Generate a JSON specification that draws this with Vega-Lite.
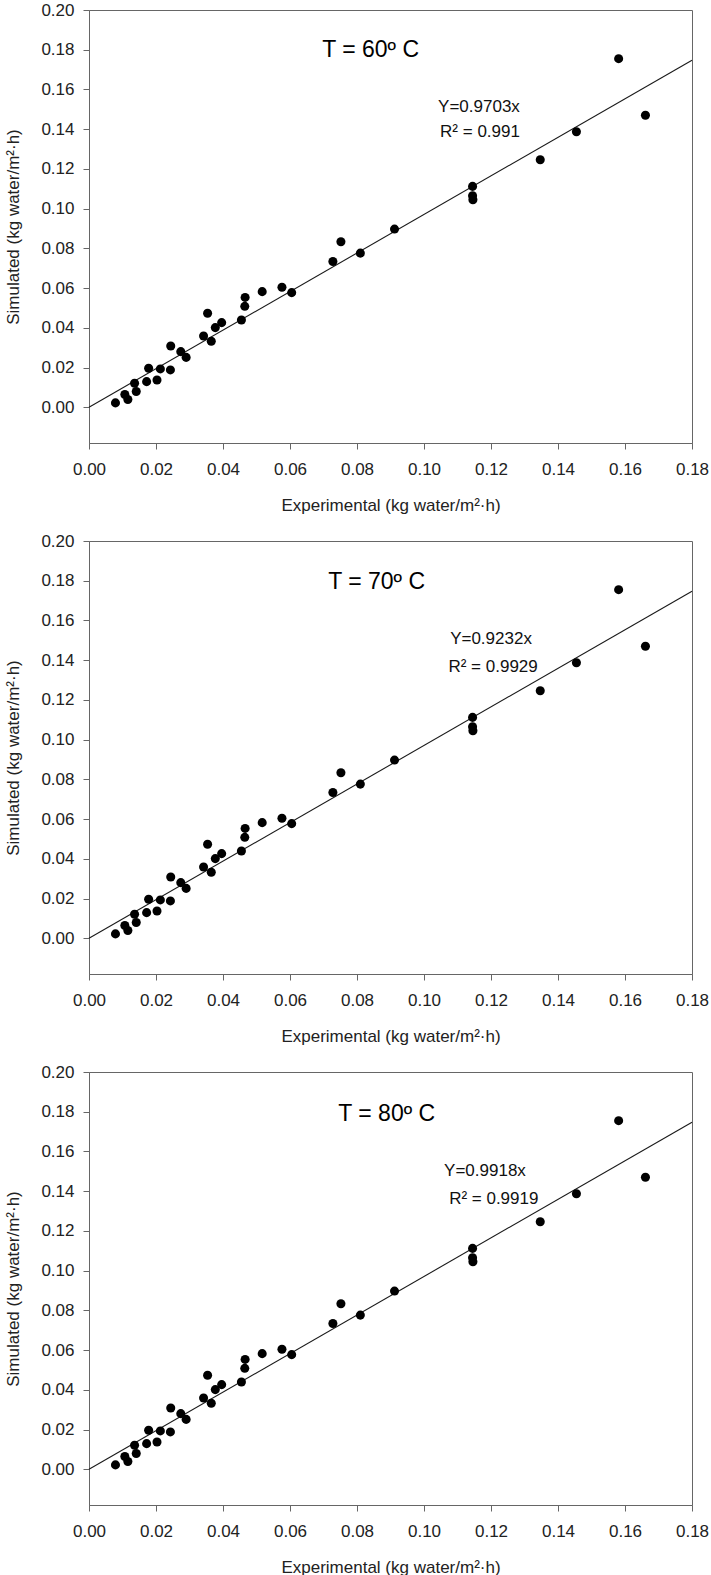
{
  "$schema": "https://vega.github.io/schema/vega-lite/v6.json",
  "padding": {"left": 4, "top": 0, "right": 0, "bottom": 5},
  "background": "white",
  "spacing": 17,
  "config": {
    "font": "Liberation Sans",
    "view": {"stroke": "#666", "strokeWidth": 1},
    "axis": {"grid": false, "domainColor": "#666", "tickColor": "#666", "tickSize": 6, "labelFont": "Liberation Sans", "labelFontSize": 17, "labelColor": "#222", "titleFont": "Liberation Sans", "titleFontSize": 17, "titleFontWeight": "normal", "titleColor": "#222", "labelFlush": false, "labelOverlap": false},
    "axisX": {"labelPadding": 12, "titlePadding": 20},
    "axisY": {"labelPadding": 9, "titlePadding": 18}
  },
  "datasets": {
    "pts": [
      {"x": 0.0079, "y": 0.0022}, {"x": 0.0107, "y": 0.0064}, {"x": 0.0116, "y": 0.0039}, {"x": 0.0136, "y": 0.0121}, {"x": 0.0141, "y": 0.0079},
      {"x": 0.0172, "y": 0.0129}, {"x": 0.0178, "y": 0.0196}, {"x": 0.0203, "y": 0.0137}, {"x": 0.0213, "y": 0.0193}, {"x": 0.0243, "y": 0.0188},
      {"x": 0.0244, "y": 0.0308}, {"x": 0.0274, "y": 0.0280}, {"x": 0.0290, "y": 0.0251}, {"x": 0.0342, "y": 0.0359}, {"x": 0.0354, "y": 0.0473},
      {"x": 0.0365, "y": 0.0332}, {"x": 0.0377, "y": 0.0401}, {"x": 0.0396, "y": 0.0426}, {"x": 0.0455, "y": 0.0439}, {"x": 0.0465, "y": 0.0508},
      {"x": 0.0466, "y": 0.0553}, {"x": 0.0517, "y": 0.0582}, {"x": 0.0576, "y": 0.0604}, {"x": 0.0605, "y": 0.0577}, {"x": 0.0728, "y": 0.0734},
      {"x": 0.0752, "y": 0.0833}, {"x": 0.0810, "y": 0.0776}, {"x": 0.0912, "y": 0.0897}, {"x": 0.1145, "y": 0.1112}, {"x": 0.1145, "y": 0.1065},
      {"x": 0.1146, "y": 0.1045}, {"x": 0.1347, "y": 0.1246}, {"x": 0.1455, "y": 0.1387}, {"x": 0.1581, "y": 0.1755}, {"x": 0.1661, "y": 0.1470}
    ],
    "fit": [{"x": 0, "y": 0}, {"x": 0.18, "y": 0.1747}]
  },
  "vconcat": [
    {
      "width": 603, "height": 433,
      "layer": [
        {"data": {"name": "fit"}, "mark": {"type": "line", "color": "#1a1a1a", "strokeWidth": 1.1},
         "encoding": {
           "x": {"field": "x", "type": "quantitative", "scale": {"domain": [0, 0.18], "nice": false}, "axis": {"values": [0, 0.02, 0.04, 0.06, 0.08, 0.1, 0.12, 0.14, 0.16, 0.18], "format": ".2f"}, "title": "Experimental (kg water/m²·h)"},
           "y": {"field": "y", "type": "quantitative", "scale": {"domain": [-0.018, 0.2], "nice": false, "zero": false}, "axis": {"values": [0, 0.02, 0.04, 0.06, 0.08, 0.1, 0.12, 0.14, 0.16, 0.18, 0.2], "format": ".2f"}, "title": "Simulated (kg water/m²·h)"}}},
        {"data": {"name": "pts"}, "mark": {"type": "circle", "size": 82, "color": "#000", "opacity": 1},
         "encoding": {"x": {"field": "x", "type": "quantitative"}, "y": {"field": "y", "type": "quantitative"}}},
        {"data": {"values": [{"t": "T = 60º C"}]}, "mark": {"type": "text", "align": "left", "baseline": "middle", "fontSize": 23, "color": "#000"},
         "encoding": {"x": {"datum": 0.0696, "type": "quantitative"}, "y": {"datum": 0.180, "type": "quantitative"}, "text": {"field": "t"}}},
        {"data": {"values": [{"t": "Y=0.9703x"}]}, "mark": {"type": "text", "align": "left", "baseline": "middle", "fontSize": 17, "color": "#111"},
         "encoding": {"x": {"datum": 0.1042, "type": "quantitative"}, "y": {"datum": 0.1514, "type": "quantitative"}, "text": {"field": "t"}}},
        {"data": {"values": [{"t": "R² = 0.991"}]}, "mark": {"type": "text", "align": "left", "baseline": "middle", "fontSize": 17, "color": "#111"},
         "encoding": {"x": {"datum": 0.1048, "type": "quantitative"}, "y": {"datum": 0.1384, "type": "quantitative"}, "text": {"field": "t"}}}
      ]
    },
    {
      "width": 603, "height": 433,
      "layer": [
        {"data": {"name": "fit"}, "mark": {"type": "line", "color": "#1a1a1a", "strokeWidth": 1.1},
         "encoding": {
           "x": {"field": "x", "type": "quantitative", "scale": {"domain": [0, 0.18], "nice": false}, "axis": {"values": [0, 0.02, 0.04, 0.06, 0.08, 0.1, 0.12, 0.14, 0.16, 0.18], "format": ".2f"}, "title": "Experimental (kg water/m²·h)"},
           "y": {"field": "y", "type": "quantitative", "scale": {"domain": [-0.018, 0.2], "nice": false, "zero": false}, "axis": {"values": [0, 0.02, 0.04, 0.06, 0.08, 0.1, 0.12, 0.14, 0.16, 0.18, 0.2], "format": ".2f"}, "title": "Simulated (kg water/m²·h)"}}},
        {"data": {"name": "pts"}, "mark": {"type": "circle", "size": 82, "color": "#000", "opacity": 1},
         "encoding": {"x": {"field": "x", "type": "quantitative"}, "y": {"field": "y", "type": "quantitative"}}},
        {"data": {"values": [{"t": "T = 70º C"}]}, "mark": {"type": "text", "align": "left", "baseline": "middle", "fontSize": 23, "color": "#000"},
         "encoding": {"x": {"datum": 0.0714, "type": "quantitative"}, "y": {"datum": 0.1793, "type": "quantitative"}, "text": {"field": "t"}}},
        {"data": {"values": [{"t": "Y=0.9232x"}]}, "mark": {"type": "text", "align": "left", "baseline": "middle", "fontSize": 17, "color": "#111"},
         "encoding": {"x": {"datum": 0.1078, "type": "quantitative"}, "y": {"datum": 0.1508, "type": "quantitative"}, "text": {"field": "t"}}},
        {"data": {"values": [{"t": "R² = 0.9929"}]}, "mark": {"type": "text", "align": "left", "baseline": "middle", "fontSize": 17, "color": "#111"},
         "encoding": {"x": {"datum": 0.1073, "type": "quantitative"}, "y": {"datum": 0.1365, "type": "quantitative"}, "text": {"field": "t"}}}
      ]
    },
    {
      "width": 603, "height": 433,
      "layer": [
        {"data": {"name": "fit"}, "mark": {"type": "line", "color": "#1a1a1a", "strokeWidth": 1.1},
         "encoding": {
           "x": {"field": "x", "type": "quantitative", "scale": {"domain": [0, 0.18], "nice": false}, "axis": {"values": [0, 0.02, 0.04, 0.06, 0.08, 0.1, 0.12, 0.14, 0.16, 0.18], "format": ".2f"}, "title": "Experimental (kg water/m²·h)"},
           "y": {"field": "y", "type": "quantitative", "scale": {"domain": [-0.018, 0.2], "nice": false, "zero": false}, "axis": {"values": [0, 0.02, 0.04, 0.06, 0.08, 0.1, 0.12, 0.14, 0.16, 0.18, 0.2], "format": ".2f"}, "title": "Simulated (kg water/m²·h)"}}},
        {"data": {"name": "pts"}, "mark": {"type": "circle", "size": 82, "color": "#000", "opacity": 1},
         "encoding": {"x": {"field": "x", "type": "quantitative"}, "y": {"field": "y", "type": "quantitative"}}},
        {"data": {"values": [{"t": "T = 80º C"}]}, "mark": {"type": "text", "align": "left", "baseline": "middle", "fontSize": 23, "color": "#000"},
         "encoding": {"x": {"datum": 0.0744, "type": "quantitative"}, "y": {"datum": 0.1787, "type": "quantitative"}, "text": {"field": "t"}}},
        {"data": {"values": [{"t": "Y=0.9918x"}]}, "mark": {"type": "text", "align": "left", "baseline": "middle", "fontSize": 17, "color": "#111"},
         "encoding": {"x": {"datum": 0.1060, "type": "quantitative"}, "y": {"datum": 0.1503, "type": "quantitative"}, "text": {"field": "t"}}},
        {"data": {"values": [{"t": "R² = 0.9919"}]}, "mark": {"type": "text", "align": "left", "baseline": "middle", "fontSize": 17, "color": "#111"},
         "encoding": {"x": {"datum": 0.1075, "type": "quantitative"}, "y": {"datum": 0.1360, "type": "quantitative"}, "text": {"field": "t"}}}
      ]
    }
  ]
}
